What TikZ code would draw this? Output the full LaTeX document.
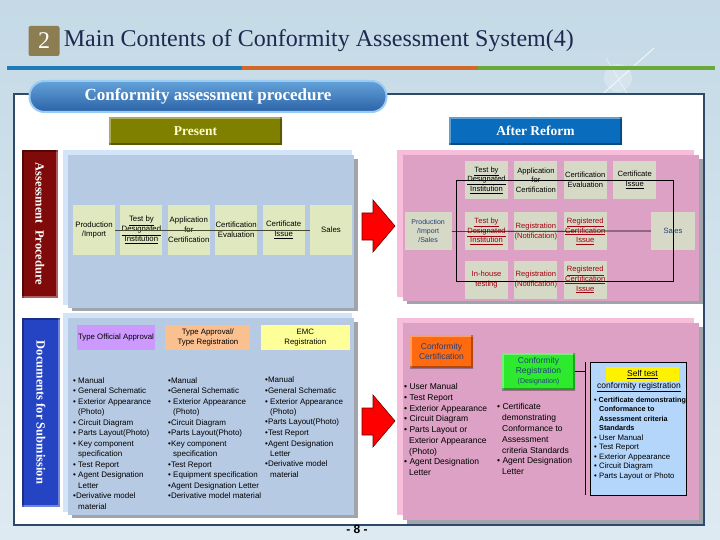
\documentclass[tikz,border=0pt]{standalone}
\usepackage{fontspec}
\setmainfont{Liberation Serif}
\setsansfont{Liberation Sans}
\usepackage{tikz}
\usetikzlibrary{positioning,calc}

\definecolor{bgtop}{HTML}{C4DAE6}
\definecolor{bgbot}{HTML}{DEEAF1}
\definecolor{titlenavy}{HTML}{1B2A4E}
\definecolor{numbox}{HTML}{8C7D52}
\definecolor{lineblue}{HTML}{1E7CB8}
\definecolor{lineorange}{HTML}{D0682A}
\definecolor{linegreen}{HTML}{6BA83C}
\definecolor{framenavy}{HTML}{2E4A68}
\definecolor{olivebox}{HTML}{7F7F00}
\definecolor{presenttext}{HTML}{FFFFCC}
\definecolor{reformblue}{HTML}{0A6CBC}
\definecolor{barred}{HTML}{7E0A0A}
\definecolor{barblue}{HTML}{2444C4}
\definecolor{paleblue}{HTML}{D3E4F8}
\definecolor{panelblue}{HTML}{B6CAE3}
\definecolor{palepink}{HTML}{F7BEDC}
\definecolor{panelpink}{HTML}{DCA1C4}
\definecolor{shadowgray}{HTML}{A2A4AC}
\definecolor{stepgreen}{HTML}{DFE8BE}
\definecolor{stepgray}{HTML}{D6D9C6}
\definecolor{stepred}{HTML}{A00010}
\definecolor{stepnavy}{HTML}{23407A}
\definecolor{flowline}{HTML}{4A4A30}
\definecolor{typepurple}{HTML}{CC99FF}
\definecolor{typeorange}{HTML}{FAC090}
\definecolor{typeyellow}{HTML}{FFFF99}
\definecolor{certorange}{HTML}{FF6A10}
\definecolor{reggreen}{HTML}{2EEA2E}
\definecolor{selfblue}{HTML}{B4D6FA}
\definecolor{arrowred}{HTML}{FF0000}
\definecolor{arrowdark}{HTML}{700000}
\definecolor{pilltop}{HTML}{64A2DA}
\definecolor{pillbot}{HTML}{2B63A6}
\definecolor{pillrim}{HTML}{9ACBF2}

\newcommand{\hang}{\hspace*{5pt}}

\begin{document}
\begin{tikzpicture}[
  x=1pt, y=-1pt,
  bevel/.style={fill=#1, path picture={
    \draw[white, opacity=.35, line width=4pt] (path picture bounding box.south west) |- (path picture bounding box.north east);
    \draw[black, opacity=.3, line width=4pt] (path picture bounding box.south west) -| (path picture bounding box.north east);}},
  pill/.style={rounded corners=15pt, top color=pilltop, bottom color=pillbot, draw=pillrim, line width=2pt,
    minimum width=357pt, minimum height=31pt, text=white, font=\bfseries\fontsize{17}{17}\selectfont},
  tabbox/.style={bevel=#1, minimum width=173pt, minimum height=28pt, font=\bfseries\fontsize{13.5}{14}\selectfont},
  sidebar/.style={bevel=#1, rotate=-90, minimum height=36pt, text=white, font=\bfseries\fontsize{12.5}{13}\selectfont},
  stepA/.style={fill=stepgreen, minimum width=42pt, minimum height=50pt, inner xsep=0pt, inner ysep=1pt, align=center,
    font=\sffamily\fontsize{7.8}{9.8}\selectfont},
  stepB/.style={fill=stepgray, minimum width=43pt, minimum height=38pt, inner xsep=0pt, inner ysep=1pt, align=center,
    font=\sffamily\fontsize{7.6}{9.6}\selectfont},
  typebox/.style={fill=#1, minimum height=25pt, inner xsep=0pt, align=center, font=\sffamily\fontsize{7.8}{10}\selectfont},
  listtxt/.style={anchor=north west, align=left, inner sep=0pt, font=\sffamily\fontsize{8}{10.5}\selectfont},
  flow/.style={flowline, line width=.6pt},
  flowB/.style={black, line width=.7pt}
]
\useasboundingbox (0,0) rectangle (720,540);

% background and title
\fill[top color=bgtop, bottom color=bgbot] (0,0) rectangle (720,540);
\fill[white, opacity=.25] (618,78) circle (14);
\draw[white, opacity=.7, line width=1pt] (596,100) -- (654,48);
\draw[white, opacity=.5, line width=.8pt] (606,58) -- (632,102);
\node[fill=numbox, rounded corners=2pt, text=white, minimum width=31pt, minimum height=30pt, inner sep=0pt,
  font=\fontsize{24}{24}\selectfont] (num) at (44,41) {2};
\node[right=4pt of num, inner sep=0pt, text=titlenavy, font=\fontsize{24}{24}\selectfont] (title)
  {Main Contents of Conformity Assessment System(4)};
\fill[lineblue] (7,66) rectangle (242,70);
\fill[lineorange] (242,66) rectangle (478,70);
\fill[linegreen] (478,66) rectangle (715,70);

% frame and headings
\draw[framenavy, line width=1.2pt, fill=white] (14,94) rectangle (704,525);
\node[pill] (procPill) at (208,96.5) {Conformity assessment procedure};
\node[tabbox=olivebox, text=presenttext] (present) at (195.5,131) {Present};
\node[tabbox=reformblue, text=white] (reform) at (535.5,131) {After Reform};

% panels
\fill[shadowgray] (72,159) rectangle (358,311);
\fill[paleblue] (63,150) rectangle (352,305);
\fill[panelblue] (68,155) rectangle (354,308);
\fill[shadowgray] (72,322) rectangle (358,518);
\fill[paleblue] (63,313) rectangle (352,512);
\fill[panelblue] (68,318) rectangle (354,515);
\fill[shadowgray] (407,159) rectangle (703,304);
\fill[palepink] (397,150) rectangle (694,297);
\fill[panelpink] (403,155) rectangle (699,301);
\fill[shadowgray] (407,327) rectangle (703,524);
\fill[palepink] (397,318) rectangle (694,515);
\fill[panelpink] (403,323) rectangle (699,520);

\node[sidebar=barred, minimum width=147pt] (assessBar) at (40,224) {Assessment\ \ Procedure};
\node[sidebar=barblue, minimum width=189pt, minimum height=38pt] (docBar) at (41,412.5) {Documents for Submission};

% arrows
\foreach \ay in {226,421}
  \filldraw[fill=arrowred, draw=arrowdark, line width=.6pt]
    (362,\ay-13) -- (373,\ay-13) -- (373,\ay-26) -- (395,\ay) -- (373,\ay+26) -- (373,\ay+14) -- (362,\ay+14) -- cycle;

% present procedure
\node[stepA] (prodA) at (94,230) {Production\\/Import};
\node[stepA, right=5pt of prodA] (testA) {\underline{Test by}\\\underline{Designated}\\\underline{Institution}};
\node[stepA, right=5pt of testA] (applA) {Application\\for\\Certification};
\node[stepA, right=5pt of applA] (evalA) {Certification\\Evaluation};
\node[stepA, right=5pt of evalA] (issueA) {Certificate\\\underline{Issue}};
\node[stepA, right=5pt of issueA] (saleA) {Sales};
\draw[flow] (prodA.east) -- (saleA.west);

% procedure after reform
\node[stepB] (testB) at (486.5,180) {\underline{Test by}\\\underline{Designated}\\\underline{Institution}};
\node[stepB, right=6pt of testB] (applB) {Application\\for\\Certification};
\node[stepB, right=6pt of applB] (evalB) {Certification\\Evaluation};
\node[stepB, right=6pt of evalB] (issueB) {Certificate\\\underline{Issue}};
\node[stepB, text=stepred, below=13pt of testB] (testC) {\underline{Test by}\\\underline{Designated}\\\underline{Institution}};
\node[stepB, text=stepred, right=6pt of testC] (regC) {Registration\\(Notification)};
\node[stepB, text=stepred, right=6pt of regC] (certC) {\underline{Registered}\\\underline{Certification}\\\underline{Issue}};
\node[stepB, text=stepred, below=10pt of testC] (houseD) {In-house\\testing};
\node[stepB, text=stepred, right=6pt of houseD] (regD) {Registration\\(Notification)};
\node[stepB, text=stepred, right=6pt of regD] (certD) {\underline{Registered}\\\underline{Certification}\\\underline{Issue}};
\node[stepB, text=stepnavy, minimum width=47pt, left=13pt of testC, font=\sffamily\fontsize{7}{9}\selectfont] (prodB)
  {Production\\/Import\\/Sales};
\node[stepB, text=stepnavy, minimum width=44pt] (saleB) at (673,231) {Sales};
\coordinate (loopNW) at (456,180);
\coordinate (loopSE) at (673,281);
\draw[flowB] (loopNW) rectangle (loopSE);
\draw[flowB] (prodB.east) -- (saleB.west);

% documents, present
\node[typebox=typepurple, minimum width=78pt] (typeOA) at (116,337.5) {Type Official Approval};
\node[typebox=typeorange, minimum width=85pt, right=10pt of typeOA] (typeAR) {Type Approval/\\Type Registration};
\node[typebox=typeyellow, minimum width=89pt, right=10pt of typeAR] (emcR) {EMC\\Registration};
\node[listtxt] (listOA) at (73,377) {• Manual\\• General Schematic\\• Exterior Appearance\\\hang(Photo)\\• Circuit Diagram\\
  • Parts Layout(Photo)\\• Key component\\\hang specification\\• Test Report\\• Agent Designation\\\hang Letter\\
  •Derivative model\\\hang material};
\node[listtxt] (listAR) at (168,377) {•Manual\\•General Schematic\\• Exterior Appearance\\\hang(Photo)\\•Circuit Diagram\\
  •Parts Layout(Photo)\\•Key component\\\hang specification\\•Test Report\\• Equipment specification\\
  •Agent Designation Letter\\•Derivative model material};
\node[listtxt] (listEMC) at (265,377) {•Manual\\•General Schematic\\• Exterior Appearance\\\hang(Photo)\\
  •Parts Layout(Photo)\\•Test Report\\•Agent Designation\\\hang Letter\\•Derivative model\\\hang material};

% documents, after reform
\node[bevel=certorange, minimum width=63pt, minimum height=33pt, align=center, text=stepnavy,
  font=\sffamily\fontsize{8.5}{10}\selectfont] (confCert) at (441.5,351.5) {Conformity\\Certification};
\node[bevel=reggreen, minimum width=73pt, minimum height=37pt, align=center, text=stepnavy,
  font=\sffamily\fontsize{8.5}{10}\selectfont] (confReg) at (538.5,371.5)
  {Conformity\\Registration\\{\fontsize{7}{8}\selectfont(Designation)}};
\node[listtxt, font=\sffamily\fontsize{8.5}{10.7}\selectfont] (listCert) at (404,383.5)
  {• User Manual\\• Test Report\\• Exterior Appearance\\• Circuit Diagram\\• Parts Layout or\\
  \hang Exterior Appearance\\\hang(Photo)\\• Agent Designation\\\hang Letter};
\node[listtxt, font=\sffamily\fontsize{8.5}{10.8}\selectfont] (listReg) at (497,403.5)
  {• Certificate\\\hang demonstrating\\\hang Conformance to\\\hang Assessment\\\hang criteria Standards\\
  • Agent Designation\\\hang Letter};
\node[draw=black, fill=selfblue, line width=.7pt, minimum width=96pt, minimum height=133pt] (selfBox) at (638,428.5) {};
\node[fill=yellow, minimum width=73pt, minimum height=15pt, inner sep=0pt,
  font=\sffamily\fontsize{8.5}{9}\selectfont] (selfHead) at (642.5,374.5) {\underline{Self test}};
\node[inner sep=0pt, font=\sffamily\fontsize{8.5}{9}\selectfont] (selfSub) at (639,387) {\underline{conformity registration}};
\node[listtxt, font=\sffamily\fontsize{7.8}{9.5}\selectfont] (selfList) at (594,397)
  {\textbf{\fontsize{7.2}{9.5}\selectfont • Certificate demonstrating}\\
  \textbf{\fontsize{7.2}{9.5}\selectfont\hang Conformance to}\\
  \textbf{\fontsize{7.2}{9.5}\selectfont\hang Assessment criteria}\\
  \textbf{\fontsize{7.2}{9.5}\selectfont\hang Standards}\\
  • User Manual\\• Test Report\\• Exterior Appearance\\• Circuit Diagram\\• Parts Layout or Photo};
\coordinate (brkTop) at (585,362);
\coordinate (brkBot) at (585,495);
\draw[flowB] (brkTop) -- (brkBot);
\draw[flowB] (confReg.east) -- (confReg.east -| brkTop);

\node[font=\sffamily\bfseries\fontsize{12}{12}\selectfont, inner sep=0pt] (pageNo) at (357,529) {- 8 -};
\end{tikzpicture}
\end{document}
